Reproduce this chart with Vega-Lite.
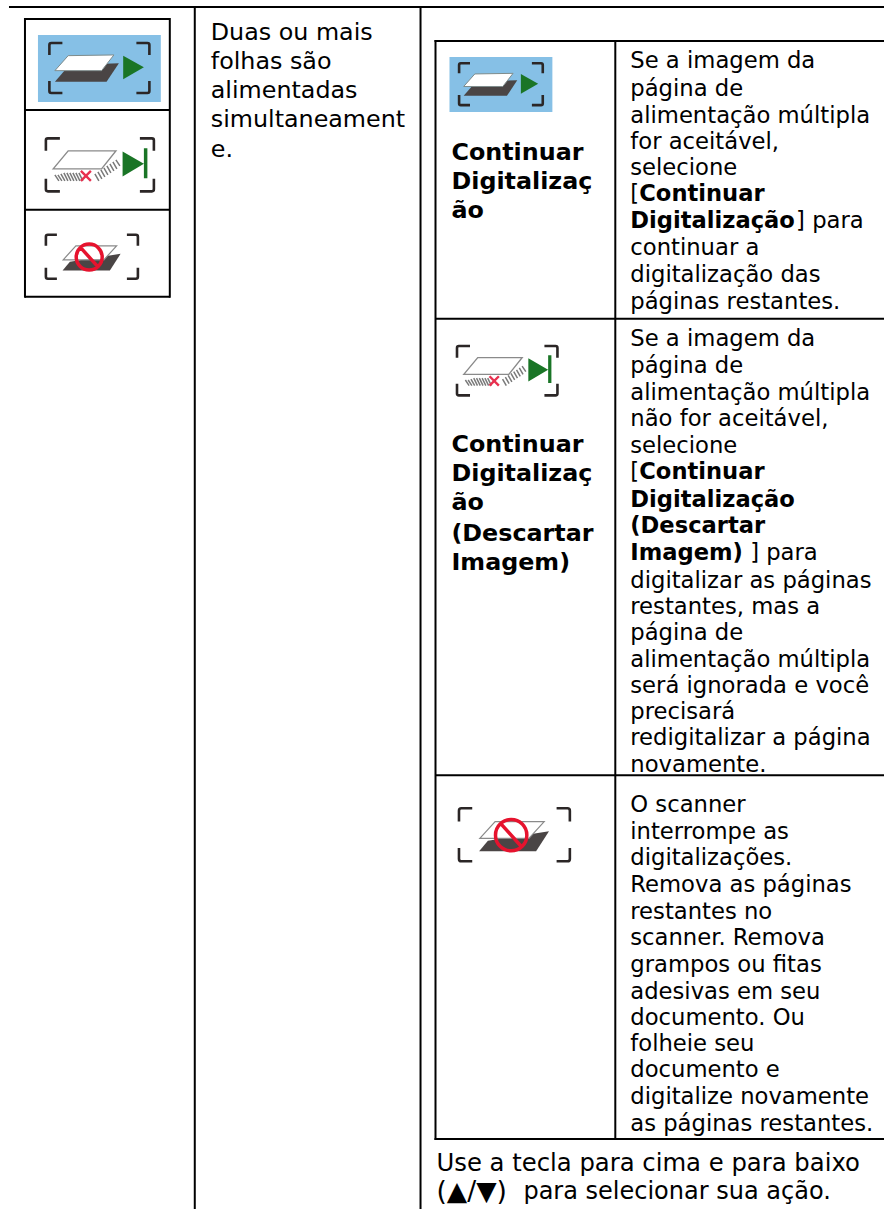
{"$schema":"https://vega.github.io/schema/vega-lite/v6.json","width":885,"height":1210,"padding":0,"autosize":{"type":"fit","contains":"padding"},"background":"#ffffff","config":{"view":{"stroke":null}},
"datasets":{
"lines":[{"x":9,"y":7,"x2":885,"y2":7},{"x":195,"y":7,"x2":195,"y2":1210},{"x":421,"y":7,"x2":421,"y2":1210},{"x":25,"y":19,"x2":170,"y2":19},{"x":25,"y":110,"x2":170,"y2":110},{"x":25,"y":210,"x2":170,"y2":210},{"x":25,"y":297,"x2":170,"y2":297},{"x":25,"y":18,"x2":25,"y2":298},{"x":170,"y":18,"x2":170,"y2":298},{"x":435,"y":41,"x2":885,"y2":41},{"x":436,"y":319,"x2":885,"y2":319},{"x":436,"y":776,"x2":885,"y2":776},{"x":435,"y":1140,"x2":885,"y2":1140},{"x":436,"y":40,"x2":436,"y2":1141},{"x":616,"y":40,"x2":616,"y2":1141}],
"blue":[{"x":38,"y":35,"x2":161,"y2":102},{"x":450,"y":57,"x2":553,"y2":112}],
"play":[{"x":99.5,"y":68,"s":4},{"x":501.5,"y":84.3,"s":2.8}],
"skip":[{"x":100,"y":165,"s":4},{"x":507.8,"y":371,"s":3.46}],
"stop":[{"x":92,"y":257,"s":4},{"x":515,"y":835.5,"s":5.81}],
"body":[{"x":211,"y":33,"text":"Duas ou mais"},{"x":211,"y":62,"text":"folhas são"},{"x":211,"y":91,"text":"alimentadas"},{"x":211,"y":120,"text":"simultaneament"},{"x":211,"y":150,"text":"e."}],
"foot":[{"x":437,"y":1165,"text":"Use a tecla para cima e para baixo"}],
"foot2":[{"x":524,"y":1193,"text":"para selecionar sua ação."}],
"keys":[{"x":437,"y":1193,"text":"(▲/▼)"}],
"cell":[{"x":631,"y":61,"text":"Se a imagem da"},{"x":631,"y":89,"text":"página de"},{"x":631,"y":116,"text":"alimentação múltipla"},{"x":631,"y":142,"text":"for aceitável,"},{"x":631,"y":168,"text":"selecione"},{"x":631,"y":194,"text":"["},{"x":797,"y":221,"text":"] para"},{"x":631,"y":248,"text":"continuar a"},{"x":631,"y":275,"text":"digitalização das"},{"x":631,"y":302,"text":"páginas restantes."},
{"x":631,"y":339,"text":"Se a imagem da"},{"x":631,"y":366,"text":"página de"},{"x":631,"y":393,"text":"alimentação múltipla"},{"x":631,"y":419,"text":"não for aceitável,"},{"x":631,"y":446,"text":"selecione"},{"x":631,"y":472,"text":"["},{"x":751,"y":553,"text":"] para"},{"x":631,"y":581,"text":"digitalizar as páginas"},{"x":631,"y":608,"text":"restantes, mas a"},{"x":631,"y":634,"text":"página de"},{"x":631,"y":661,"text":"alimentação múltipla"},{"x":631,"y":687,"text":"será ignorada e você"},{"x":631,"y":713,"text":"precisará"},{"x":631,"y":739,"text":"redigitalizar a página"},{"x":631,"y":766,"text":"novamente."},
{"x":631,"y":806,"text":"O scanner"},{"x":631,"y":833,"text":"interrompe as"},{"x":631,"y":859,"text":"digitalizações."},{"x":631,"y":886,"text":"Remova as páginas"},{"x":631,"y":913,"text":"restantes no"},{"x":631,"y":939,"text":"scanner. Remova"},{"x":631,"y":966,"text":"grampos ou fitas"},{"x":631,"y":993,"text":"adesivas em seu"},{"x":631,"y":1019,"text":"documento. Ou"},{"x":631,"y":1045,"text":"folheie seu"},{"x":631,"y":1071,"text":"documento e"},{"x":631,"y":1098,"text":"digitalize novamente"},{"x":631,"y":1125,"text":"as páginas restantes."}],
"cellBold":[{"x":640,"y":194,"text":"Continuar"},{"x":631,"y":221,"text":"Digitalização"},{"x":640,"y":472,"text":"Continuar"},{"x":631,"y":500,"text":"Digitalização"},{"x":631,"y":526,"text":"(Descartar"},{"x":631,"y":553,"text":"Imagem)"}],
"head":[{"x":452,"y":153,"text":"Continuar"},{"x":452,"y":182,"text":"Digitalizaç"},{"x":452,"y":211,"text":"ão"},{"x":452,"y":445,"text":"Continuar"},{"x":452,"y":474,"text":"Digitalizaç"},{"x":452,"y":503,"text":"ão"},{"x":452,"y":534,"text":"(Descartar"},{"x":452,"y":563,"text":"Imagem)"}]
},
"encoding":{"x":{"field":"x","type":"quantitative","scale":{"domain":[0,885],"nice":false,"zero":false},"axis":null},"y":{"field":"y","type":"quantitative","scale":{"domain":[1210,0],"nice":false,"zero":false},"axis":null}},
"layer":[
{"data":{"name":"blue"},"mark":{"type":"rect","fill":"#86c0e6"},"encoding":{"x2":{"field":"x2"},"y2":{"field":"y2"}}},
{"data":{"name":"lines"},"mark":{"type":"rule","stroke":"#000000","strokeWidth":2},"encoding":{"x2":{"field":"x2"},"y2":{"field":"y2"}}},

{"data":{"name":"play"},"mark":{"type":"point","filled":false,"opacity":1,"stroke":"#2b2626","strokeWidth":2.6,"shape":"M-50,-13L-50,-23Q-50,-25,-48,-25L-37,-25M37,-25L48,-25Q50,-25,50,-23L50,-13M-50,13L-50,23Q-50,25,-48,25L-37,25M37,25L48,25Q50,25,50,23L50,13"},"encoding":{"size":{"field":"s","type":"quantitative","scale":null}}},
{"data":{"name":"play"},"mark":{"type":"point","filled":true,"opacity":1,"fill":"#4a4545","shape":"M-44.5,13.7L-30,-3L19.5,-4.7L7.2,13.7Z"},"encoding":{"size":{"field":"s","type":"quantitative","scale":null}}},
{"data":{"name":"play"},"mark":{"type":"point","filled":true,"opacity":1,"fill":"#ffffff","stroke":"#7f8c8c","strokeWidth":1,"shape":"M-44.5,2.7L-31.2,-12.3L14.5,-13L2.2,2.7Z"},"encoding":{"size":{"field":"s","type":"quantitative","scale":null}}},
{"data":{"name":"play"},"mark":{"type":"point","filled":true,"opacity":1,"fill":"#1a7526","shape":"M23.8,-12.3L44.5,-0.7L23.8,11.3Z"},"encoding":{"size":{"field":"s","type":"quantitative","scale":null}}},

{"data":{"name":"skip"},"mark":{"type":"point","filled":false,"opacity":1,"stroke":"#2b2626","strokeWidth":2.6,"shape":"M-54,-14L-54,-24.5Q-54,-26.5,-52,-26.5L-40,-26.5M40,-26.5L52,-26.5Q54,-26.5,54,-24.5L54,-14M-54,14L-54,24.5Q-54,26.5,-52,26.5L-40,26.5M40,26.5L52,26.5Q54,26.5,54,24.5L54,14"},"encoding":{"size":{"field":"s","type":"quantitative","scale":null}}},
{"data":{"name":"skip"},"mark":{"type":"point","filled":false,"opacity":1,"stroke":"#7a7a7a","strokeWidth":1.5,"shape":"M-45,10L-41,16M-42,10L-38,16M-39,9L-35,16M-36,8L-32,16M-33,8L-29,16M-30,8L-26,16M-27,8L-23,16M-24,8L-20,16M-21,8L-17,16M-5,9L-1,16M-2,7L2,14M1,5L5,12M4,3L8,10M7,1L11,8M10,-1L14,6M13,-3L17,4M16,-5L20,1"},"encoding":{"size":{"field":"s","type":"quantitative","scale":null}}},
{"data":{"name":"skip"},"mark":{"type":"point","filled":true,"opacity":1,"fill":"#ffffff","stroke":"#8a8a8a","strokeWidth":1.4,"shape":"M-46.7,4L-31.7,-14L16,-14L1.7,4Z"},"encoding":{"size":{"field":"s","type":"quantitative","scale":null}}},
{"data":{"name":"skip"},"mark":{"type":"point","filled":false,"opacity":1,"stroke":"#e8304f","strokeWidth":2.4,"shape":"M-19,6L-9,16M-9,6L-19,16"},"encoding":{"size":{"field":"s","type":"quantitative","scale":null}}},
{"data":{"name":"skip"},"mark":{"type":"point","filled":true,"opacity":1,"fill":"#1a7526","shape":"M22.7,-13.3L44,-1L22.7,11.7ZM44,-16.7L47.5,-16.7L47.5,13.3L44,13.3Z"},"encoding":{"size":{"field":"s","type":"quantitative","scale":null}}},

{"data":{"name":"stop"},"mark":{"type":"point","filled":false,"opacity":1,"stroke":"#2b2626","strokeWidth":2.6,"shape":"M-46,-11L-46,-20Q-46,-22,-44,-22L-35,-22M35,-22L44,-22Q46,-22,46,-20L46,-11M-46,11L-46,20Q-46,22,-44,22L-35,22M35,22L44,22Q46,22,46,20L46,11"},"encoding":{"size":{"field":"s","type":"quantitative","scale":null}}},
{"data":{"name":"stop"},"mark":{"type":"point","filled":true,"opacity":1,"fill":"#4a4545","shape":"M-29.3,13.7L-22,5L28.7,-3L18,13.7Z"},"encoding":{"size":{"field":"s","type":"quantitative","scale":null}}},
{"data":{"name":"stop"},"mark":{"type":"point","filled":true,"opacity":1,"fill":"#ffffff","stroke":"#8a8a8a","strokeWidth":1.2,"shape":"M-28.7,3L-16,-11L24.7,-11L12,3Z"},"encoding":{"size":{"field":"s","type":"quantitative","scale":null}}},
{"data":{"name":"stop"},"mark":{"type":"point","filled":false,"opacity":1,"stroke":"#e6132e","strokeWidth":3.5,"shape":"M-15.7,0.3A13,13,0,1,1,10.3,0.3A13,13,0,1,1,-15.7,0.3ZM-11.7,-9.7L6.3,10.3"},"encoding":{"size":{"field":"s","type":"quantitative","scale":null}}},

{"data":{"name":"body"},"mark":{"type":"text","font":"DejaVu Sans","fontSize":23.8,"align":"left","baseline":"middle","color":"#000000"},"encoding":{"text":{"field":"text"}}},
{"data":{"name":"foot"},"mark":{"type":"text","font":"DejaVu Sans","fontSize":24.3,"align":"left","baseline":"middle","color":"#000000"},"encoding":{"text":{"field":"text"}}},
{"data":{"name":"foot2"},"mark":{"type":"text","font":"DejaVu Sans","fontSize":24,"align":"left","baseline":"middle","color":"#000000"},"encoding":{"text":{"field":"text"}}},
{"data":{"name":"keys"},"mark":{"type":"text","font":"DejaVu Sans","fontSize":26.5,"align":"left","baseline":"middle","color":"#000000"},"encoding":{"text":{"field":"text"}}},
{"data":{"name":"cell"},"mark":{"type":"text","font":"DejaVu Sans","fontSize":22.7,"align":"left","baseline":"middle","color":"#000000"},"encoding":{"text":{"field":"text"}}},
{"data":{"name":"cellBold"},"mark":{"type":"text","font":"DejaVu Sans","fontSize":22.6,"fontWeight":"bold","align":"left","baseline":"middle","color":"#000000"},"encoding":{"text":{"field":"text"}}},
{"data":{"name":"head"},"mark":{"type":"text","font":"DejaVu Sans","fontSize":23.8,"fontWeight":"bold","align":"left","baseline":"middle","color":"#000000"},"encoding":{"text":{"field":"text"}}}
]}
